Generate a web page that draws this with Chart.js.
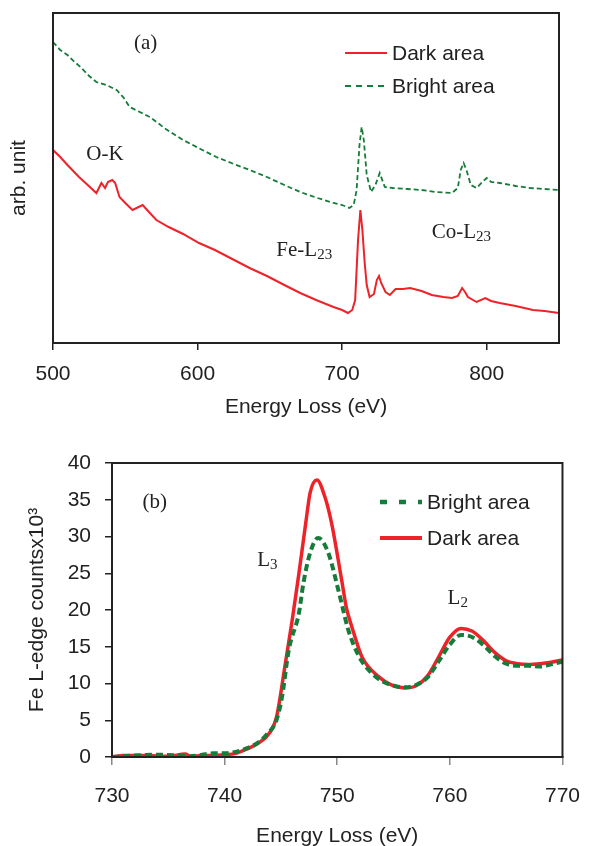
<!DOCTYPE html>
<html>
<head>
<meta charset="utf-8">
<script src="https://cdn.jsdelivr.net/npm/chart.js@4.4.0/dist/chart.umd.min.js"></script>
<style>
  html, body { margin: 0; padding: 0; background: #fff; }
  #wrapA { position: absolute; left: 0; top: 0; width: 599px; height: 420px; }
  #wrapB { position: absolute; left: 0; top: 420px; width: 599px; height: 426px; }
</style>
</head>
<body>
<div id="wrapA"><canvas id="chartA" width="599" height="420"></canvas></div>
<div id="wrapB"><canvas id="chartB" width="599" height="426"></canvas></div>
<script>
// (a) survey spectra, arbitrary units
const energyDarkA = [500, 505, 510, 518, 524, 530, 533.5, 536, 538, 541, 543, 546, 550, 555, 562, 567, 571.5, 580, 590, 601, 612, 624, 636, 648, 660, 671, 682, 694, 700, 704, 707, 709, 711, 712.6, 714, 715.6, 717, 719, 722, 724, 725.5, 727, 730, 733, 737, 742, 747, 755, 762, 770, 776, 780, 783, 785, 787, 793, 799, 803, 809, 820, 832, 840, 850];
const countsDarkA = [193, 186, 178, 166, 158, 150, 160, 155, 161, 163, 160, 146, 140, 133, 138, 130, 123, 116, 109, 100, 93, 84, 75, 67, 58, 50, 43, 36, 33, 30, 33, 43, 103, 133, 113, 80, 58, 46, 49, 63, 67, 60, 51, 48, 54, 54, 55, 52, 48, 46, 45, 47, 55, 51, 46, 41, 45, 42, 40, 37, 33, 32, 30];
const energyBrightA = [500, 505, 510, 515, 519, 525, 530, 537, 544, 549, 553, 560, 567, 578, 590, 602, 613, 625, 636, 648, 660, 671, 683, 694, 700, 705, 708, 710, 712, 713.5, 715, 717, 720, 723, 726, 729.5, 735, 745, 755, 765, 776, 780, 782, 784, 786, 789, 793, 797, 800, 803, 809, 820, 830, 840, 850];
const countsBrightA = [301, 293, 288, 281, 276, 267, 261, 258, 253, 245, 236, 231, 226, 214, 203, 194, 186, 179, 173, 166, 158, 151, 145, 140, 138, 135, 138, 153, 198, 216, 203, 168, 151, 158, 170, 156, 155, 154, 153, 151, 150, 155, 173, 180, 173, 158, 155, 161, 165, 161, 160, 157, 155, 154, 153];
const xTicksA = [500, 600, 700, 800];

// (b) Fe L-edge, counts x10^3
const energyBrightB = [730, 731, 732, 734, 736, 737, 738, 739, 740, 741, 742, 743, 743.7, 744.6, 745.1, 745.7, 746.6, 747, 747.6, 748.3, 749.2, 750.1, 751, 752, 753, 754, 755, 756, 757, 758, 759, 760, 761, 762, 763, 764, 765, 766, 767, 768, 769, 770];
const countsBrightB = [0, 0.1, 0.2, 0.3, 0.2, 0.1, 0.3, 0.5, 0.5, 0.7, 1.2, 2.0, 3.0, 5.0, 8.2, 14.6, 19.6, 23.7, 27.8, 29.8, 27.8, 22.7, 17.2, 13.5, 11.5, 10.3, 9.7, 9.5, 9.8, 10.8, 13.0, 15.3, 16.6, 16.3, 15.2, 13.7, 12.7, 12.4, 12.4, 12.3, 12.6, 13.0];
const energyDarkB = [730, 731, 733, 735, 736.5, 737, 738, 739, 740, 741, 742, 743, 744, 744.6, 745.4, 746, 746.6, 747.2, 747.6, 748.2, 748.9, 749.5, 750.4, 750.8, 751.3, 752.2, 753.7, 754.8, 756, 757, 758, 759, 760, 761, 762, 763, 764, 765, 766, 767, 768, 769, 770];
const countsDarkB = [0, 0.2, 0.2, 0.1, 0.4, 0.1, 0.2, 0.2, 0.3, 0.5, 1.1, 1.9, 3.3, 5.4, 12.8, 18.6, 25.0, 31.8, 36.0, 37.7, 35.4, 31.8, 24.0, 20.4, 17.7, 13.6, 10.9, 9.8, 9.4, 9.7, 11.0, 13.6, 16.3, 17.5, 17.1, 15.8, 14.2, 13.1, 12.7, 12.6, 12.7, 12.9, 13.2];
const xTicksB = [730, 740, 750, 760, 770];
const yTicksB = [0, 5, 10, 15, 20, 25, 30, 35, 40];

const RED = '#ee2229';
const GREEN = '#167c3a';
const INK = '#222';
const SANS = 'Liberation Sans, Arial, sans-serif';
const SERIF = 'Liberation Serif, Times New Roman, serif';

const pts = (xs, ys) => xs.map((x, i) => ({ x, y: ys[i] }));

// frame around plot area
const boxPlugin = {
  id: 'box',
  afterDatasetsDraw(chart) {
    const { ctx, chartArea: a } = chart;
    ctx.save();
    ctx.strokeStyle = INK;
    ctx.lineWidth = 2;
    ctx.strokeRect(a.left, a.top, a.right - a.left, a.bottom - a.top);
    ctx.restore();
  }
};

// text labels inside the plot: [text, subscript, x value, y value]
function notesPlugin(items) {
  return {
    id: 'notes',
    afterDraw(chart) {
      const { ctx, scales } = chart;
      ctx.save();
      ctx.fillStyle = INK;
      ctx.textBaseline = 'middle';
      ctx.textAlign = 'left';
      items.forEach(([txt, sub, xv, yv]) => {
        const x = scales.x.getPixelForValue(xv);
        const y = scales.y.getPixelForValue(yv);
        ctx.font = '21px ' + SERIF;
        ctx.fillText(txt, x, y);
        if (sub) {
          const w = ctx.measureText(txt).width;
          ctx.font = '15px ' + SERIF;
          ctx.fillText(sub, x + w, y + 5);
        }
      });
      ctx.restore();
    }
  };
}

// legend drawn inside the plot area
function legendPlugin(items, dx, dy, gap) {
  return {
    id: 'inlegend',
    afterDraw(chart) {
      const { ctx, chartArea: a } = chart;
      ctx.save();
      items.forEach((it, i) => {
        const y = a.top + dy + i * gap;
        const x = a.left + dx;
        ctx.strokeStyle = it.color;
        ctx.lineWidth = it.width;
        ctx.setLineDash(it.dash);
        ctx.beginPath();
        ctx.moveTo(x, y);
        ctx.lineTo(x + 42, y);
        ctx.stroke();
        ctx.setLineDash([]);
        ctx.fillStyle = INK;
        ctx.font = '21px ' + SANS;
        ctx.textBaseline = 'middle';
        ctx.fillText(it.label, x + 47, y + 1);
      });
      ctx.restore();
    }
  };
}

new Chart(document.getElementById('chartA'), {
  type: 'line',
  data: {
    datasets: [
      { label: 'Dark area', data: pts(energyDarkA, countsDarkA), borderColor: RED, borderWidth: 2, pointRadius: 0, tension: 0 },
      { label: 'Bright area', data: pts(energyBrightA, countsBrightA), borderColor: GREEN, borderWidth: 1.8, borderDash: [5, 3], pointRadius: 0, tension: 0 }
    ]
  },
  options: {
    responsive: false,
    animation: false,
    layout: { padding: { top: 13, right: 40, left: 0, bottom: 0 } },
    plugins: { legend: { display: false }, tooltip: { enabled: false } },
    scales: {
      x: {
        type: 'linear', min: 500, max: 850,
        afterBuildTicks: s => { s.ticks = xTicksA.map(v => ({ value: v })); },
        afterFit: s => { s.height = 77; },
        grid: { drawOnChartArea: false, drawTicks: true, tickLength: 7, color: INK, lineWidth: 1.5 },
        border: { display: true, color: INK, width: 2 },
        ticks: { color: INK, font: { family: SANS, size: 21 }, padding: 12, maxRotation: 0 },
        title: { display: true, text: 'Energy Loss (eV)', color: INK, font: { family: SANS, size: 21 }, padding: 0 }
      },
      y: {
        min: 0, max: 330,
        afterFit: s => { s.width = 53; },
        grid: { display: false },
        border: { display: true, color: INK, width: 2 },
        ticks: { display: false },
        title: { display: true, text: 'arb. unit', color: INK, font: { family: SANS, size: 21 }, padding: { top: 7, bottom: 0 } }
      }
    }
  },
  plugins: [
    boxPlugin,
    notesPlugin([['(a)', '', 556, 300], ['O-K', '', 523, 189], ['Fe-L', '23', 654.5, 93], ['Co-L', '23', 762, 111]]),
    legendPlugin([
      { label: 'Dark area', color: RED, width: 2, dash: [] },
      { label: 'Bright area', color: GREEN, width: 2, dash: [6, 5] }
    ], 292, 40, 33)
  ]
});

new Chart(document.getElementById('chartB'), {
  type: 'line',
  data: {
    datasets: [
      { label: 'Bright area', data: pts(energyBrightB, countsBrightB), borderColor: GREEN, borderWidth: 4, borderDash: [7, 4], pointRadius: 0, cubicInterpolationMode: 'monotone' },
      { label: 'Dark area', data: pts(energyDarkB, countsDarkB), borderColor: RED, borderWidth: 3.5, pointRadius: 0, cubicInterpolationMode: 'monotone' }
    ]
  },
  options: {
    responsive: false,
    animation: false,
    layout: { padding: { top: 43, right: 34, left: 0, bottom: 0 } },
    plugins: { legend: { display: false }, tooltip: { enabled: false } },
    scales: {
      x: {
        type: 'linear', min: 730, max: 770,
        afterBuildTicks: s => { s.ticks = xTicksB.map(v => ({ value: v })); },
        afterFit: s => { s.height = 89; },
        grid: { drawOnChartArea: false, drawTicks: true, tickLength: 8, color: '#888', lineWidth: 1.5 },
        border: { display: true, color: INK, width: 2 },
        ticks: { color: INK, font: { family: SANS, size: 21 }, padding: 19, maxRotation: 0 },
        title: { display: true, text: 'Energy Loss (eV)', color: INK, font: { family: SANS, size: 21 }, padding: { top: 0, bottom: -3 } }
      },
      y: {
        min: 0, max: 40,
        afterBuildTicks: s => { s.ticks = yTicksB.map(v => ({ value: v })); },
        afterFit: s => { s.width = 112; },
        grid: { drawOnChartArea: false, drawTicks: true, tickLength: 7, color: INK, lineWidth: 1.5 },
        border: { display: true, color: INK, width: 2 },
        ticks: { color: INK, font: { family: SANS, size: 21 }, padding: 14 },
        title: { display: true, text: 'Fe L-edge countsx10³', color: INK, font: { family: SANS, size: 21 }, padding: { top: 25, bottom: 0 } }
      }
    }
  },
  plugins: [
    boxPlugin,
    notesPlugin([['(b)', '', 732.7, 34.6], ['L', '3', 742.9, 26.8], ['L', '2', 759.8, 21.6]]),
    legendPlugin([
      { label: 'Bright area', color: GREEN, width: 4.5, dash: [7, 12] },
      { label: 'Dark area', color: RED, width: 4, dash: [] }
    ], 268, 39, 36)
  ]
});
</script>
</body>
</html>
